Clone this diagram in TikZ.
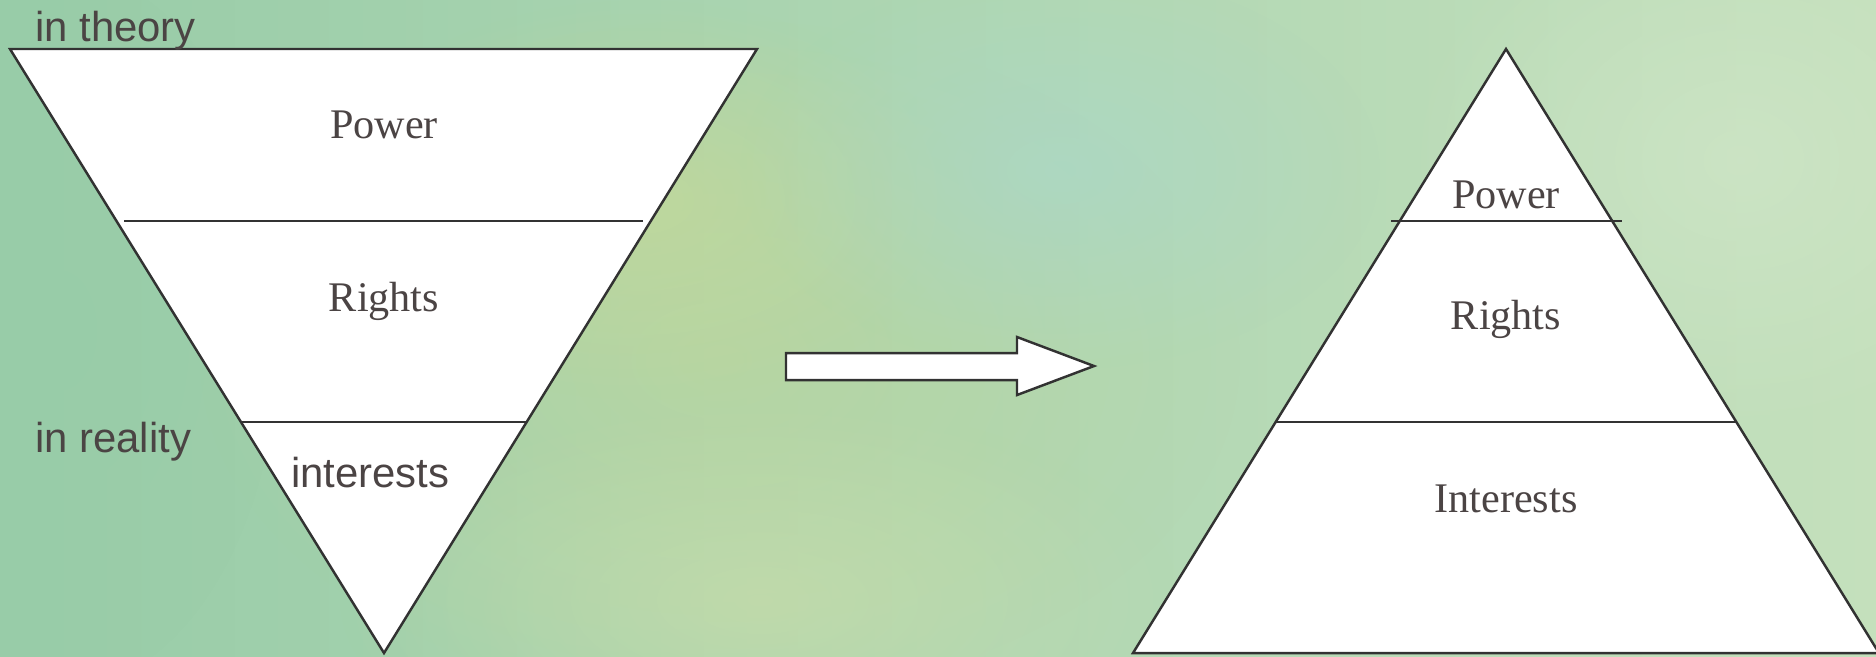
\documentclass[tikz,border=0pt]{standalone}
\usepackage{fontspec}
\setmainfont{Liberation Serif}
\newfontfamily\labelfont{Liberation Sans}
\usetikzlibrary{fadings}

\definecolor{ink}{RGB}{75,68,68}
\definecolor{edge}{RGB}{50,50,50}
\definecolor{bgleft}{RGB}{152,204,168}
\definecolor{bgright}{RGB}{196,224,188}
\definecolor{bgmid}{RGB}{186,214,160}
\definecolor{bgyellow}{RGB}{200,218,150}
\definecolor{bgblue}{RGB}{170,216,204}
\definecolor{bgpale}{RGB}{204,222,170}
\definecolor{bglight}{RGB}{208,230,200}

\tikzfading[name=softdot, inner color=transparent!0, outer color=transparent!100]

\tikzset{
	layer/.style={font=\fontsize{12}{14}\selectfont, text=ink, anchor=base},
	side/.style={font=\labelfont\fontsize{11.9}{14}\selectfont, text=ink, anchor=base west, inner sep=0pt},
	blob/.style={path fading=softdot}
}

\begin{document}
\begin{tikzpicture}[x=0.01cm, y=-0.01cm, line width=0.7pt]
	\useasboundingbox (0,0) rectangle (1876,656);
	% background
	\shade[left color=bgleft, right color=bgright] (0,0) rectangle (1876,656);
	\fill[bgmid, blob, opacity=0.8] (720,360) ellipse (520 and 340);
	\fill[bgyellow, blob, opacity=0.6] (640,200) ellipse (320 and 200);
	\fill[bgblue, blob, opacity=0.6] (1060,170) ellipse (320 and 200);
	\fill[bgpale, blob, opacity=0.6] (760,600) ellipse (420 and 200);
	\fill[bglight, blob, opacity=0.7] (1740,160) ellipse (340 and 280);
	\fill[bgleft, blob, opacity=0.6] (60,330) ellipse (220 and 360);

	% inverted triangle
	\coordinate (tl) at (10,49);
	\coordinate (tr) at (757,49);
	\coordinate (tb) at (384,653);
	\filldraw[fill=white, draw=edge] (tl) -- (tr) -- (tb) -- cycle;
	\draw[edge] (124,221) -- (643,221);
	\draw[edge] (242,422) -- (526,422);
	\node[layer] (p1) at (384,138) {Power};
	\node[layer] (r1) at (384,311) {Rights};
	\node[side] (i1) at (290,487) {interests};
	\node[side] (th) at (34,41) {in theory};
	\node[side] (re) at (34,452) {in reality};

	% block arrow
	\filldraw[fill=white, draw=edge] (786,353) -- (1017,353) -- (1017,337) -- (1094,366) -- (1017,395) -- (1017,380) -- (786,380) -- cycle;

	% pyramid
	\coordinate (pa) at (1506,49);
	\coordinate (pl) at (1133,653);
	\coordinate (pr) at (1879,653);
	\filldraw[fill=white, draw=edge] (pa) -- (pl) -- (pr) -- cycle;
	\draw[edge] (1391,221) -- (1622,221);
	\draw[edge] (1275,422) -- (1737,422);
	\node[layer] (p2) at (1506,208) {Power};
	\node[layer] (r2) at (1506,329) {Rights};
	\node[layer] (i2) at (1506,512) {Interests};
\end{tikzpicture}
\end{document}
